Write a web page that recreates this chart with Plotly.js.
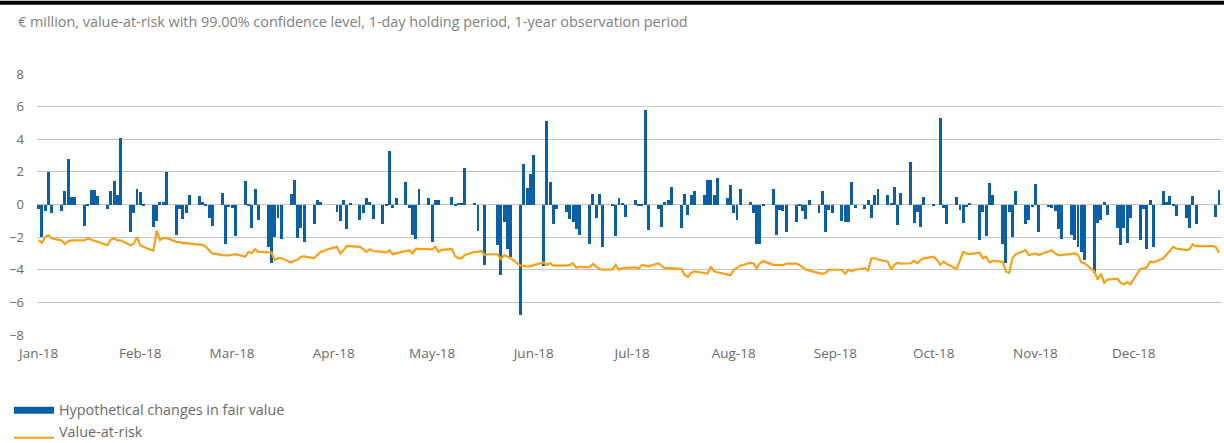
<!DOCTYPE html>
<html>
<head>
<meta charset="utf-8">
<script src="https://cdn.plot.ly/plotly-3.0.1.min.js"></script>
<style>
  html, body { margin: 0; padding: 0; background: #ffffff; }
  #chart { width: 1224px; height: 443px; }
</style>
</head>
<body>
<div id="chart"></div>
<script>
// ---- Data (€ million, one value per weekday of 2018) ----
const firstWeekday = '2018-01-01';   // Monday, start of the trading calendar
const monthTickFormat = '%b-%y';

// Hypothetical changes in fair value (bars), Mon..Fri rows
const fairValueChange = [
  -0.3, -2.0, -0.4, 2.0, -0.5,
  -0.4, 0.84, 2.8, 0.47, 0.47,
  -1.3, -0.1, 0.88, 0.88, 0.5,
  -0.3, 0.84, 1.47, 0.57, 4.1,
  -1.7, -0.5, 0.98, 0.78, -0.1,
  -1.4, -1.0, 0.15, 0.15, 2.0,
  -1.9, -0.25, -0.9, -0.5, 0.6,
  0.53, 0.15, -0.1, -0.85, -1.3,
  0.73, -2.4, -0.15, -0.2, -1.94,
  1.45, -0.1, -1.47, 0.96, -0.96,
  -2.6, -3.6, -2.0, -0.8, -2.1,
  0.67, 1.53, -2.04, -1.47, -2.3,
  -1.2, 0.3, 0.16, 0, 0,
  -0.45, -1.0, 0.3, -1.5, 0.1,
  -0.92, -0.5, 0.37, 0.16, -0.86,
  -1.2, -0.1, 3.3, -0.2, 0.37,
  1.4, -0.2, -1.9, -2.1, 0.94,
  0.37, -2.3, 0.3, 0.3, 0,
  0.43, -0.1, 0.1, 0.1, 2.25,
  0.1, -1.6, 0, -3.7, 0,
  -2.5, -4.33, -1.06, -2.75, -3.2,
  -6.8, 2.47, 1.0, 1.9, 3.06,
  -3.75, 5.1, 1.4, -1.2, -0.25,
  -0.45, -0.86, -1.06, -1.53, -1.88,
  -2.4, 0.67, -0.8, 0.67, -2.6,
  -0.1, -1.94, 0.37, 0.1, -0.76,
  0.27, -0.05, -0.1, 5.78, -1.57,
  -0.25, -1.37, 0.16, 0.27, 1.08,
  -1.43, 0.63, -0.65, 0.57, 0.82,
  0.6, 1.5, 1.5, 0.6, 1.6,
  0.37, 1.18, -0.55, -0.96, 0.92,
  0.15, -0.5, -2.43, -2.43, -0.1,
  0.98, -1.88, -0.35, -0.4, -1.67,
  -1.06, -0.1, -0.4, -0.86, 0.3,
  -0.5, 0.84, -1.71, -0.35, -0.55,
  -1.0, -1.06, -1.06, 1.39, -0.2,
  -0.25, 0.3, -0.8, 0.57, 0.95,
  0.57, 0.1, 1.08, -1.27, 0.73,
  2.6, -1.12, -0.45, -1.37, 0.47,
  -0.1, 0, 5.33, -0.2, -1.2,
  0.47, -0.35, -1.16, -0.15, 0.1,
  -2.18, -0.45, -1.94, 1.33, 0.57,
  -2.43, -3.57, -0.45, -2.0, 0.84,
  -1.2, -0.92, -0.15, 1.24, -1.71,
  -0.15, -0.2, -0.4, -1.5, -2.14,
  -1.88, -2.18, -2.6, -2.9, -3.4,
  -4.22, -1.16, -0.96, 0.16, -0.65,
  -1.47, -2.5, -1.47, -2.35, -0.8,
  -2.18, -0.25, -2.7, 0.27, -2.63,
  0.84, 0.16, 0.5, -0.1, -0.71,
  -0.8, -1.47, 0.5, -1.2, 0,
  0, 0, -0.76, 0.88
];

// Value-at-risk (line), Mon..Fri rows
const valueAtRisk = [
  -2.18, -2.35, -2.0, -1.88, -2.08,
  -2.2, -2.43, -2.25, -2.2, -2.2,
  -2.2, -2.08, -2.15, -2.25, -2.29,
  -2.5, -2.15, -2.08, -2.2, -2.2,
  -2.5, -2.4, -2.0, -2.5, -2.6,
  -2.84, -1.6, -2.18, -2.05, -2.05,
  -2.29, -2.3, -2.37, -2.35, -2.4,
  -2.43, -2.47, -2.6, -2.8, -3.0,
  -3.1, -3.12, -3.12, -3.08, -3.04,
  -3.2, -2.9, -3.0, -2.73, -2.9,
  -2.9, -2.94, -3.4, -3.3, -3.28,
  -3.55, -3.45, -3.37, -3.2, -3.18,
  -3.3, -3.1, -2.9, -2.85, -2.76,
  -2.6, -3.0, -2.8, -2.55, -2.55,
  -2.6, -2.75, -2.9, -2.75, -2.85,
  -2.9, -2.95, -2.8, -3.05, -3.0,
  -2.85, -2.8, -3.0, -2.7, -2.72,
  -2.76, -2.75, -2.6, -2.9, -2.78,
  -2.73, -3.15, -3.3, -3.3, -3.1,
  -2.9, -2.9, -2.85, -3.1, -3.05,
  -3.05, -3.35, -3.1, -3.2, -3.3,
  -3.75, -3.78, -3.8, -3.78, -3.72,
  -3.55, -3.7, -3.6, -3.75, -3.75,
  -3.75, -3.7, -3.6, -3.88, -3.82,
  -3.85, -3.65, -3.8, -3.95, -4.0,
  -3.98, -3.7, -4.0, -3.9, -3.88,
  -3.85, -3.92, -3.7, -3.75, -3.8,
  -3.6, -3.75, -3.92, -3.9, -3.92,
  -3.95, -4.3, -4.43, -4.2, -4.1,
  -4.2, -4.25, -3.8, -4.1, -4.15,
  -4.25, -4.33, -4.0, -3.85, -3.75,
  -3.58, -3.6, -3.92, -3.6, -3.47,
  -3.7, -3.7, -3.72, -3.72, -3.62,
  -3.62, -3.7, -3.85, -3.98, -4.05,
  -4.18, -4.25, -4.2, -4.0, -4.0,
  -4.0, -4.25, -4.0, -4.1, -4.0,
  -3.92, -4.05, -3.3, -3.3, -3.37,
  -3.5, -4.0, -3.7, -3.57, -3.62,
  -3.6, -3.45, -3.6, -3.4, -3.3,
  -3.2, -3.4, -3.7, -3.5, -3.65,
  -3.95, -3.45, -2.9, -3.0, -3.04,
  -2.95, -3.3, -3.2, -3.55, -3.45,
  -3.5, -4.1, -4.2, -3.3, -3.05,
  -2.8, -3.1, -3.05, -3.0, -3.1,
  -2.85, -2.8, -3.0, -3.1, -3.1,
  -3.05, -3.0, -3.1, -3.55, -3.6,
  -4.1, -4.6, -4.25, -4.8, -4.6,
  -4.55, -4.8, -4.9, -4.75, -4.88,
  -3.95, -3.92, -3.85, -3.5, -3.55,
  -3.3, -3.1, -2.85, -2.6, -2.7,
  -2.8, -2.75, -2.43, -2.55, -2.55,
  -2.55, -2.55, -2.6, -2.96
];

const seriesNames = ['Hypothetical changes in fair value', 'Value-at-risk'];
const titleText = '€ million, value-at-risk with 99.00% confidence level, 1-day holding period, 1-year observation period';
const yTicks = [-8, -6, -4, -2, 0, 2, 4, 6, 8];

// ---- Trading calendar: consecutive weekdays from firstWeekday ----
const tradingDays = [];
(function () {
  const d = new Date(firstWeekday + 'T00:00:00Z');
  while (tradingDays.length < fairValueChange.length) {
    const wd = d.getUTCDay();
    if (wd !== 0 && wd !== 6) tradingDays.push(d.toISOString().slice(0, 10));
    d.setUTCDate(d.getUTCDate() + 1);
  }
})();

// ---- Styling ----
const BLUE = '#0a5fa6';
const ORANGE = '#f7a11a';
const GRID = '#c4c4c4';
const TXT = '#6b6b6b';
const FONT = 'Open Sans, Noto Sans, sans-serif';

// plot area in pixels: left 37, right 1222, top 73.5, bottom 335
const L = 37, R = 1222, T = 73.5, B = 335;
const px = x => (x - L) / (R - L);
const py = y => (B - y) / (B - T);

const traces = [
  {
    type: 'bar',
    x: tradingDays,
    y: fairValueChange,
    name: seriesNames[0],
    marker: { color: BLUE, line: { width: 0 } },
    width: 86400000 * 0.9,
    hoverinfo: 'x+y'
  },
  {
    type: 'scatter',
    mode: 'lines',
    x: tradingDays,
    y: valueAtRisk,
    name: seriesNames[1],
    line: { color: ORANGE, width: 2.2 },
    hoverinfo: 'x+y'
  }
];

const layout = {
  width: 1224,
  height: 443,
  margin: { l: L, r: 1224 - R, t: T, b: 443 - B, pad: 0 },
  paper_bgcolor: '#ffffff',
  plot_bgcolor: '#ffffff',
  showlegend: false,
  bargap: 0,
  font: { family: FONT, color: TXT, size: 12 },
  title: {
    text: titleText,
    x: 18 / 1224, xref: 'container', xanchor: 'left',
    y: 1 - 22 / 443, yref: 'container', yanchor: 'middle',
    font: { family: FONT, size: 14.4, color: '#808080' }
  },
  xaxis: {
    type: 'date',
    range: ['2017-12-31 12:00', '2018-12-27 22:00'],
    tick0: '2018-01-01',
    dtick: 'M1',
    tickformat: monthTickFormat,
    showgrid: false,
    zeroline: false,
    showline: false,
    ticks: '',
    ticklabelstandoff: 8,
    tickfont: { family: FONT, size: 13.5, color: TXT },
    fixedrange: true
  },
  yaxis: {
    range: [-8, 8],
    tickvals: yTicks,
    showgrid: true,
    gridcolor: GRID,
    gridwidth: 1,
    zeroline: true,
    zerolinecolor: GRID,
    zerolinewidth: 1,
    showline: false,
    ticks: '',
    ticklabelstandoff: 12,
    tickfont: { family: FONT, size: 13, color: TXT },
    fixedrange: true
  },
  shapes: [
    // black rule at the very top
    { type: 'rect', xref: 'paper', yref: 'paper',
      x0: px(0), x1: px(1224), y0: py(4), y1: py(0),
      fillcolor: '#000000', line: { width: 0 } },
    // legend swatches
    { type: 'rect', xref: 'paper', yref: 'paper',
      x0: px(14), x1: px(54), y0: py(414), y1: py(407),
      fillcolor: BLUE, line: { width: 0 } },
    { type: 'line', xref: 'paper', yref: 'paper',
      x0: px(14), x1: px(54), y0: py(438), y1: py(438),
      line: { color: ORANGE, width: 2 } }
  ],
  annotations: [
    { xref: 'paper', yref: 'paper', x: px(57), y: py(410), xanchor: 'left', yanchor: 'middle',
      text: seriesNames[0], showarrow: false, font: { family: FONT, size: 14.4, color: TXT } },
    { xref: 'paper', yref: 'paper', x: px(57), y: py(432), xanchor: 'left', yanchor: 'middle',
      text: seriesNames[1], showarrow: false, font: { family: FONT, size: 14.4, color: TXT } }
  ]
};

Plotly.newPlot('chart', traces, layout, { displayModeBar: false, responsive: false });
</script>
</body>
</html>
